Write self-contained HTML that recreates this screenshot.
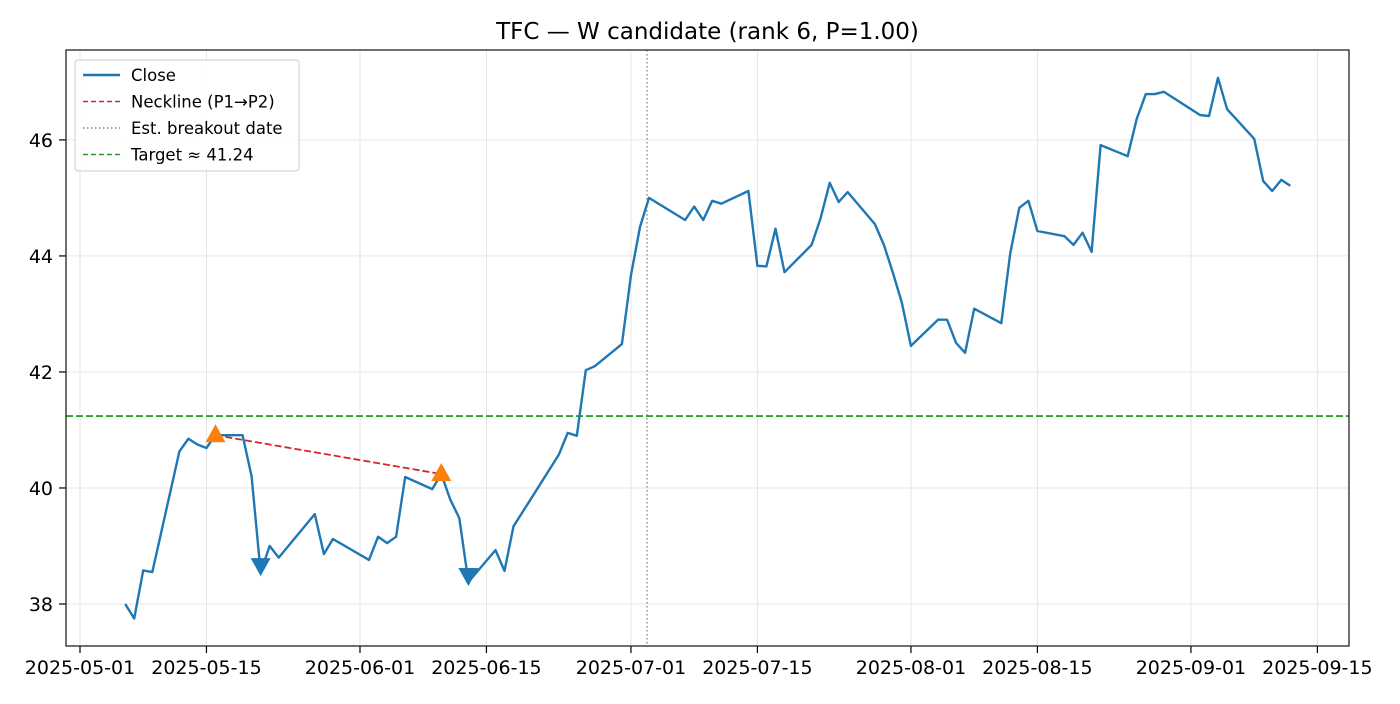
<!DOCTYPE html>
<html><head><meta charset="utf-8"><style>
body{margin:0;background:#fff;font-family:"DejaVu Sans","Liberation Sans",sans-serif}
svg text{font-family:"DejaVu Sans","Liberation Sans",sans-serif}
</style></head><body>
<svg id="chart" width="1400" height="700" xmlns="http://www.w3.org/2000/svg"></svg>
<script>
const dates=["2025-05-06","2025-05-07","2025-05-08","2025-05-09","2025-05-12","2025-05-13","2025-05-14","2025-05-15","2025-05-16","2025-05-19","2025-05-20","2025-05-21","2025-05-22","2025-05-23","2025-05-27","2025-05-28","2025-05-29","2025-06-02","2025-06-03","2025-06-04","2025-06-05","2025-06-06","2025-06-09","2025-06-10","2025-06-11","2025-06-12","2025-06-13","2025-06-16","2025-06-17","2025-06-18","2025-06-20","2025-06-23","2025-06-24","2025-06-25","2025-06-26","2025-06-27","2025-06-30","2025-07-01","2025-07-02","2025-07-03","2025-07-07","2025-07-08","2025-07-09","2025-07-10","2025-07-11","2025-07-14","2025-07-15","2025-07-16","2025-07-17","2025-07-18","2025-07-21","2025-07-22","2025-07-23","2025-07-24","2025-07-25","2025-07-28","2025-07-29","2025-07-30","2025-07-31","2025-08-01","2025-08-04","2025-08-05","2025-08-06","2025-08-07","2025-08-08","2025-08-11","2025-08-12","2025-08-13","2025-08-14","2025-08-15","2025-08-18","2025-08-19","2025-08-20","2025-08-21","2025-08-22","2025-08-25","2025-08-26","2025-08-27","2025-08-28","2025-08-29","2025-09-02","2025-09-03","2025-09-04","2025-09-05","2025-09-08","2025-09-09","2025-09-10","2025-09-11","2025-09-12"];
const closes=[38.00,37.75,38.58,38.55,40.63,40.85,40.75,40.69,40.91,40.91,40.20,38.55,39.00,38.80,39.55,38.86,39.12,38.76,39.16,39.05,39.16,40.19,39.98,40.24,39.80,39.48,38.38,38.93,38.57,39.34,39.83,40.57,40.95,40.90,42.03,42.10,42.48,43.67,44.50,45.00,44.62,44.85,44.62,44.95,44.90,45.12,43.83,43.82,44.47,43.72,44.19,44.65,45.26,44.93,45.10,44.55,44.19,43.71,43.19,42.45,42.90,42.90,42.50,42.33,43.09,42.84,44.05,44.83,44.95,44.43,44.34,44.19,44.40,44.07,45.91,45.72,46.36,46.79,46.79,46.83,46.43,46.41,47.07,46.53,46.02,45.29,45.12,45.31,45.21];
const peakDates=["2025-05-16","2025-06-10"];
const peakVals=[40.91,40.24];
const troughDates=["2025-05-21","2025-06-13"];
const troughVals=[38.55,38.38];
const breakoutDate="2025-07-03";
const targetVal=41.24;
const yTicks=[38,40,42,44,46];
const xTickLabels=["2025-05-01","2025-05-15","2025-06-01","2025-06-15","2025-07-01","2025-07-15","2025-08-01","2025-08-15","2025-09-01","2025-09-15"];

const NS="http://www.w3.org/2000/svg";
const svg=document.getElementById('chart');
const L=66,R=1349,T=50,B=646;
const d0=Date.UTC(2025,4,1);
function day(s){const p=s.split('-');return (Date.UTC(+p[0],+p[1]-1,+p[2])-d0)/86400000;}
const dMin=-1.55,dMax=140.5,vMin=37.276,vMax=47.55;
function X(s){return L+(day(s)-dMin)/(dMax-dMin)*(R-L);}
function Y(v){return B-(v-vMin)/(vMax-vMin)*(B-T);}
function el(tag,attrs,parent){const e=document.createElementNS(NS,tag);for(const k in attrs)e.setAttribute(k,attrs[k]);(parent||svg).appendChild(e);return e;}

const grid=el('g',{});


xTickLabels.forEach(s=>{const x=X(s);
  const g=el('line',{x1:x,x2:x,y1:T,y2:B,stroke:'#e6e6e6','stroke-width':1},grid);
  
  
  const t=el('line',{x1:x,x2:x,y1:B,y2:B+7,stroke:'#000','stroke-width':1.2});
  
  
  const tx=el('text',{x:x,y:674,'font-size':19,'text-anchor':'middle',fill:'#000'});
  tx.textContent=s;
  
  
});
yTicks.forEach(v=>{const y=Y(v);
  const g=el('line',{x1:L,x2:R,y1:y,y2:y,stroke:'#e6e6e6','stroke-width':1},grid);
  
  
  const t=el('line',{x1:L-7,x2:L,y1:y,y2:y,stroke:'#000','stroke-width':1.2});
  
  
  const tx=el('text',{x:L-13,y:y+7,'font-size':19,'text-anchor':'end',fill:'#000'});
  tx.textContent=v;
  
  
});

const ty=Y(targetVal);
const tl=el('line',{x1:L,x2:R,y1:ty,y2:ty,stroke:'#2ca02c','stroke-width':1.8,'stroke-dasharray':'7,3'});


const bx=X(breakoutDate)-2;
const bl=el('line',{x1:bx,x2:bx,y1:T,y2:B,stroke:'#808080','stroke-width':1.3,'stroke-dasharray':'1.5,2.5'});



const pts=dates.map((d,i)=>X(d).toFixed(1)+','+Y(closes[i]).toFixed(1)).join(' ');
const cl=el('polyline',{points:pts,fill:'none',stroke:'#1f77b4','stroke-width':2.4,'stroke-linejoin':'round'});



const nl=el('line',{x1:X(peakDates[0]),y1:Y(peakVals[0]),x2:X(peakDates[1]),y2:Y(peakVals[1]),stroke:'#d62728','stroke-width':1.8,'stroke-dasharray':'7,3'});



peakDates.forEach((d,i)=>{const x=X(d),y=Y(peakVals[i]);
  const m=el('polygon',{points:`${x},${y-11} ${x-10},${y+7} ${x+10},${y+7}`,fill:'#ff7f0e'});
  
  
});
troughDates.forEach((d,i)=>{const x=X(d),y=Y(troughVals[i]);
  const m=el('polygon',{points:`${x},${y+4} ${x-10},${y-14} ${x+10},${y-14}`,fill:'#1f77b4'});
  
  
});

const fr=el('rect',{x:L,y:T,width:R-L,height:B-T,fill:'none',stroke:'#222','stroke-width':1.3});



const title=el('text',{x:(L+R)/2,y:39,'font-size':23,'text-anchor':'middle',fill:'#000'});
title.textContent='TFC — W candidate (rank 6, P=1.00)';



const lg=el('g',{});


el('rect',{x:75,y:60,width:224,height:111,rx:3,fill:'#fff','fill-opacity':0.85,stroke:'#ccc'},lg);
const items=[['Close','#1f77b4',null],['Neckline (P1→P2)','#d62728','5,3'],['Est. breakout date','#808080','1.5,2.5'],['Target ≈ 41.24','#2ca02c','5,3']];
items.forEach((it,i)=>{const y=75+i*26.5;
  const e=el('g',{},lg);
  
  
  const a={x1:83,x2:120,y1:y,y2:y,stroke:it[1],'stroke-width':it[2]?1.6:2.4};
  if(it[2])a['stroke-dasharray']=it[2];
  el('line',a,e);
  const t=el('text',{x:131,y:y+6,'font-size':16.5,fill:'#000'},e);
  t.textContent=it[0];
});
</script>
</body></html>
